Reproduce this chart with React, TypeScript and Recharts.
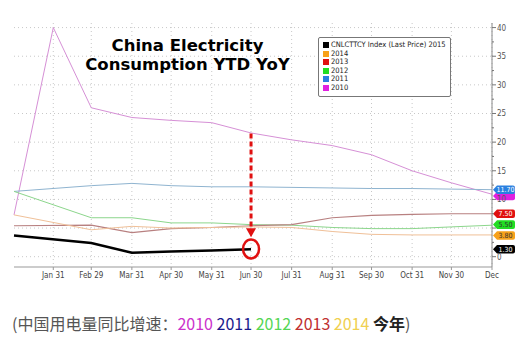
import { LineChart, Line, XAxis, YAxis, CartesianGrid, ReferenceLine, ReferenceDot } from "recharts";

const days = [0, 30, 59, 90, 120, 151, 181, 212, 243, 273, 304, 334, 365];
const dayLabels = ["", "Jan 31", "Feb 29", "Mar 31", "Apr 30", "May 31", "Jun 30", "Jul 31", "Aug 31", "Sep 30", "Oct 31", "Nov 30", "Dec"];
const yTicks = [0, 2.5, 5, 7.5, 10, 12.5, 15, 17.5, 20, 22.5, 25, 27.5, 30, 32.5, 35, 37.5, 40];
const gridValues = [0, 5, 10, 15, 20, 25, 30, 35, 40];
// tick labels that sit under the last-value tags
const hiddenTickLabels = [5];

const v2015 = [3.7, null, 2.4, 0.7, 0.9, 1.1, 1.3, null, null, null, null, null, null];
const v2014 = [7.3, null, 4.7, 5.3, 5.0, 5.1, 5.2, 5.1, 4.4, 3.9, 3.8, 3.8, 3.8];
const v2013 = [5.4, null, 5.5, 4.2, 4.9, 5.1, 5.4, 5.6, 6.8, 7.2, 7.4, 7.5, 7.5];
const v2012 = [11.4, null, 6.8, 6.8, 5.9, 5.9, 5.6, 5.5, 5.1, 4.9, 4.9, 5.2, 5.5];
const v2011 = [11.4, null, 12.4, 12.8, 12.4, 12.2, 12.2, 12.1, 12.0, 11.9, 11.9, 11.8, 11.7];
const v2010 = [7.3, 40, 26, 24.3, 23.8, 23.4, 21.6, 20.4, 19.4, 17.8, 15.0, 12.9, 10.9];

const series = [
  { key: "y2010", name: "2010", values: v2010, line: "#d690d6", width: 1 },
  { key: "y2011", name: "2011", values: v2011, line: "#8fb4d0", width: 1 },
  { key: "y2012", name: "2012", values: v2012, line: "#8cd68c", width: 1 },
  { key: "y2013", name: "2013", values: v2013, line: "#b88080", width: 1.2 },
  { key: "y2014", name: "2014", values: v2014, line: "#f0c098", width: 1 },
  { key: "y2015", name: "CNLCTTCY Index (Last Price) 2015", values: v2015, line: "#000000", width: 2.5 },
];

// last values shown as tags on the right axis (slightly spread where they crowd)
const badges = [
  { name: "2010", value: 10.6, label: "", color: "#e020e0", text: "#fff" },
  { name: "2011", value: 11.7, label: "11.70", color: "#2a80e0", text: "#fff" },
  { name: "2013", value: 7.5, label: "7.50", color: "#e01010", text: "#fff" },
  { name: "2012", value: 5.6, label: "5.50", color: "#22dd22", text: "#333" },
  { name: "2014", value: 3.7, label: "3.80", color: "#f7a11a", text: "#333" },
  { name: "2015", value: 1.3, label: "1.30", color: "#000000", text: "#fff" },
];

const legendOrder = ["y2015", "y2014", "y2013", "y2012", "y2011", "y2010"];
const legendColors: Record<string, string> = {
  y2015: "#000000",
  y2014: "#f7a11a",
  y2013: "#e01010",
  y2012: "#22dd22",
  y2011: "#2a80e0",
  y2010: "#e020e0",
};

const arrowDay = 181;
const arrowFrom = 21.5;
const arrowTo = 5.2;
const arrowTip = 3.4;
const markValue = 1.35;

const data = days.map((d, i) => {
  const row: Record<string, number | null> = { day: d };
  series.forEach((s) => {
    row[s.key] = s.values[i];
  });
  return row;
});

const captionParts = [
  { text: "(中国用电量同比增速：", color: "#555", bold: false },
  { text: "2010 ", color: "#cc33cc", bold: false },
  { text: "2011 ", color: "#1a1a8c", bold: false },
  { text: "2012 ", color: "#55d655", bold: false },
  { text: "2013 ", color: "#c03030", bold: false },
  { text: "2014 ", color: "#f0d050", bold: false },
  { text: "今年", color: "#222", bold: true },
  { text: ")", color: "#555", bold: false },
];

function Badge(props: any) {
  const { cx, cy, label, color, text } = props;
  const h = 4.3;
  return (
    <g>
      <path
        d={`M ${cx + 1} ${cy} L ${cx + 5} ${cy - h} L ${cx + 21} ${cy - h} Q ${cx + 23} ${cy - h} ${cx + 23} ${cy - h + 2} L ${cx + 23} ${cy + h - 2} Q ${cx + 23} ${cy + h} ${cx + 21} ${cy + h} L ${cx + 5} ${cy + h} Z`}
        fill={color}
      />
      {label ? (
        <text x={cx + 13.5} y={cy + 2.4} textAnchor="middle" fontSize={7} fill={text} fontFamily="DejaVu Sans Condensed, sans-serif">
          {label}
        </text>
      ) : null}
    </g>
  );
}

function Arrowhead(props: any) {
  const { cx, cy } = props;
  return <path d={`M ${cx - 5} ${cy - 9} L ${cx + 5} ${cy - 9} L ${cx} ${cy} Z`} fill="#e01010" />;
}

function Ring(props: any) {
  const { cx, cy } = props;
  return <ellipse cx={cx} cy={cy} rx={8} ry={9.5} fill="none" stroke="#e01010" strokeWidth={2.5} />;
}

function RightTick(props: any) {
  const { x, y, payload } = props;
  const major = payload.value % 5 === 0;
  const showLabel = major && !hiddenTickLabels.includes(payload.value);
  return (
    <g>
      <line x1={x - 8} x2={x - (major ? 4 : 6)} y1={y} y2={y} stroke="#777" />
      {showLabel ? (
        <text x={x - 3} y={y + 3} fontSize={8} fill="#555" fontFamily="DejaVu Sans Condensed, sans-serif">
          {payload.value}
        </text>
      ) : null}
    </g>
  );
}

function LegendBox() {
  return (
    <div
      style={{
        position: "absolute",
        left: 318,
        top: 37,
        border: "1.5px solid #777",
        borderRadius: 2,
        background: "#fff",
        padding: "3px 4px 4px 4px",
        fontFamily: "DejaVu Sans Condensed, sans-serif",
        fontSize: 7.5,
        color: "#222",
        lineHeight: "8.5px",
        whiteSpace: "nowrap",
      }}
    >
      {legendOrder.map((k) => {
        const s = series.find((x) => x.key === k)!;
        return (
          <div key={k} style={{ display: "flex", alignItems: "center", height: 8.5 }}>
            <span style={{ width: 6, height: 6, background: legendColors[k], marginRight: 2, display: "inline-block" }} />
            <span>{s.name}</span>
          </div>
        );
      })}
    </div>
  );
}

export default function App() {
  return (
    <div style={{ position: "absolute", left: 0, top: 0, width: 531, height: 357, background: "#fff" }}>
      <LineChart width={531} height={300} data={data} margin={{ top: 23, right: 0, left: 14, bottom: 0 }}>
        <CartesianGrid
          stroke="#c8c8c8"
          strokeDasharray="1 3"
          horizontalValues={gridValues}
          verticalValues={days.slice(1)}
        />
        <XAxis
          dataKey="day"
          type="number"
          domain={[0, 365]}
          ticks={days.slice(1)}
          tickFormatter={(v: number) => dayLabels[days.indexOf(v)]}
          tick={{ fontSize: 8, fill: "#444", fontFamily: "DejaVu Sans Condensed, sans-serif" }}
          tickSize={3}
          height={33}
          stroke="#999"
          interval={0}
        />
        <YAxis
          orientation="right"
          type="number"
          domain={[-1.8, 40.8]}
          ticks={yTicks}
          interval={0}
          width={39}
          stroke="#888"
          tickLine={false}
          tick={<RightTick />}
          allowDataOverflow
        />
        {series.map((s) => (
          <Line
            key={s.key}
            dataKey={s.key}
            name={s.name}
            stroke={s.line}
            strokeWidth={s.width}
            dot={false}
            connectNulls
            isAnimationActive={false}
          />
        ))}
        <ReferenceLine
          segment={[
            { x: arrowDay, y: arrowFrom },
            { x: arrowDay, y: arrowTo },
          ]}
          stroke="#e01010"
          strokeWidth={3}
          strokeDasharray="5 3"
        />
        <ReferenceDot x={arrowDay} y={arrowTip} r={5} shape={<Arrowhead />} ifOverflow="visible" />
        <ReferenceDot x={arrowDay} y={markValue} r={8} shape={<Ring />} ifOverflow="visible" />
        {badges.map((b) => (
          <ReferenceDot
            key={b.name}
            x={365}
            y={b.value}
            r={5}
            ifOverflow="visible"
            shape={(p: any) => <Badge {...p} label={b.label} color={b.color} text={b.text} />}
          />
        ))}
      </LineChart>
      <LegendBox />
      <div
        style={{
          position: "absolute",
          left: 80,
          top: 36,
          width: 215,
          textAlign: "center",
          fontFamily: "DejaVu Sans, Verdana, sans-serif",
          fontWeight: "bold",
          fontSize: 16.5,
          lineHeight: "19px",
          color: "#000",
        }}
      >
        China Electricity
        <br />
        Consumption YTD YoY
      </div>
      <div
        style={{
          position: "absolute",
          left: 12,
          top: 311,
          fontFamily: "'Noto Sans CJK SC', sans-serif",
          fontSize: 16,
          whiteSpace: "nowrap",
        }}
      >
        {captionParts.map((c, i) => (
          <span key={i} style={{ color: c.color, fontWeight: c.bold ? "bold" : "normal" }}>
            {c.text}
          </span>
        ))}
      </div>
    </div>
  );
}
